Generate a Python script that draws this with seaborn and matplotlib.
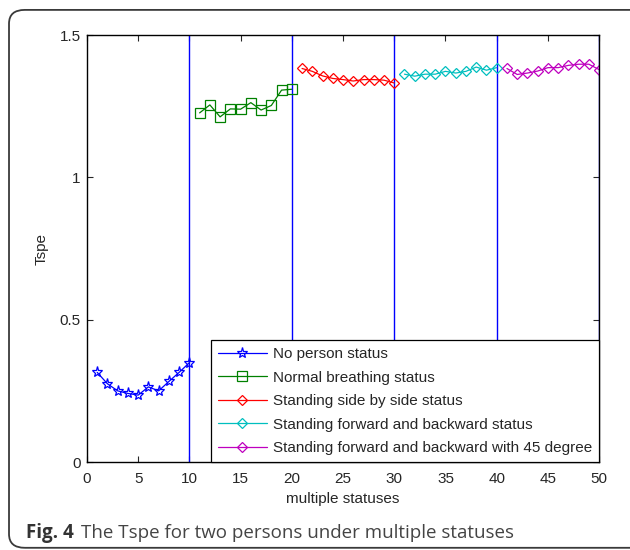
import numpy as np
import pandas as pd
import seaborn as sns
import matplotlib.pyplot as plt
from matplotlib.patches import FancyBboxPatch

# ----------------------------------------
# DATA
# ----------------------------------------
x_none = list(range(1, 11))
x_breath = list(range(11, 21))
x_side = list(range(21, 31))
x_fb = list(range(31, 41))
x_fb45 = list(range(41, 51))

tspe_none = [0.315, 0.275, 0.250, 0.241, 0.235, 0.264, 0.250, 0.283, 0.315, 0.349]
tspe_breath = [1.227, 1.255, 1.213, 1.241, 1.240, 1.263, 1.237, 1.253, 1.307, 1.310]
tspe_side = [1.383, 1.373, 1.357, 1.348, 1.344, 1.339, 1.344, 1.344, 1.342, 1.332]
tspe_fb = [1.363, 1.356, 1.363, 1.363, 1.373, 1.367, 1.373, 1.388, 1.377, 1.386]
tspe_fb45 = [1.383, 1.362, 1.367, 1.374, 1.386, 1.386, 1.394, 1.398, 1.398, 1.379]

labels = ["No person status",
          "Normal breathing status",
          "Standing side by side status",
          "Standing forward and backward status",
          "Standing forward and backward with 45 degree"]
boundaries = [10, 20, 30, 40, 50]
xticks = list(range(0, 55, 5))
yticks = [0, 0.5, 1, 1.5]
ytick_labels = ["0", "0.5", "1", "1.5"]

# ----------------------------------------
# PLOT
# ----------------------------------------
sns.set_style("white")
plt.rcParams['font.family'] = ['Liberation Sans', 'DejaVu Sans']

fig = plt.figure(figsize=(6.3, 5.5), dpi=100)
ax = fig.add_axes([0.138, 0.16, 0.813, 0.776])

series = [
    (x_none, tspe_none, "#0000ff", "*", 8),
    (x_breath, tspe_breath, "#008000", "s", 7),
    (x_side, tspe_side, "#ff0000", "D", 5.3),
    (x_fb, tspe_fb, "#00bfbf", "D", 5.3),
    (x_fb45, tspe_fb45, "#bf00bf", "D", 5.3),
]

for (xs, ys, col, mk, ms), lab in zip(series, labels):
    df = pd.DataFrame({"x": xs, "y": ys})
    sns.lineplot(data=df, x="x", y="y", ax=ax, color=col, marker=mk,
                 markersize=ms, markerfacecolor="none", markeredgecolor=col,
                 markeredgewidth=0.9, linewidth=0.9, label=lab)

for b in boundaries:
    ax.axvline(b, color="#0000ff", linewidth=1.0, zorder=1)

ax.set_xlim(0, 50)
ax.set_ylim(0, 1.5)
ax.set_xticks(xticks)
ax.set_yticks(yticks)
ax.set_yticklabels(ytick_labels)
ax.tick_params(direction="in", length=4, width=0.8, labelsize=11,
               top=True, right=True, bottom=True, left=True)
ax.tick_params(axis="x", pad=7)
ax.tick_params(axis="y", pad=4.5)
for s in ax.spines.values():
    s.set_color("black")
    s.set_linewidth(1.0)

ax.set_xlabel("multiple statuses", fontsize=11, labelpad=4.5)
ax.set_ylabel("Tspe", fontsize=11, labelpad=8)

leg = ax.legend(loc="lower right", fontsize=11, handlelength=3.2,
                borderaxespad=0.0, fancybox=False, framealpha=1,
                labelspacing=0.62, borderpad=0.45, handletextpad=0.4)
leg.get_frame().set_edgecolor("black")
leg.get_frame().set_linewidth(0.9)

# rounded frame and caption
frame = FancyBboxPatch((0.0143, 0.004), 1.02, 0.978,
                       boxstyle="round,pad=0,rounding_size=0.025",
                       transform=fig.transFigure, fill=False,
                       edgecolor="#3a3a3a", linewidth=1.3, clip_on=False)
fig.patches.append(frame)

fig.text(0.041, 0.022, "Fig. 4", fontsize=13.5, fontweight="bold",
         family=["Open Sans", "DejaVu Sans"], color="#333333")
fig.text(0.1286, 0.022, "The Tspe for two persons under multiple statuses",
         fontsize=13.5, family=["Open Sans", "DejaVu Sans"], color="#444444")

plt.savefig("out.png", dpi=100)
